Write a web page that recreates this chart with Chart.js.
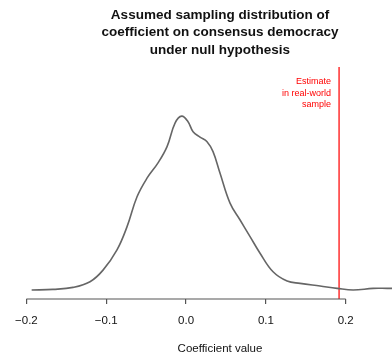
<!DOCTYPE html>
<html>
<head>
<meta charset="utf-8">
<script src="https://cdn.jsdelivr.net/npm/chart.js@4"></script>
<style>
  html, body { margin: 0; padding: 0; background: #fff; }
  #wrap { width: 392px; height: 354px; }
</style>
</head>
<body>
<div id="wrap"><canvas id="densityPlot" width="392" height="354"></canvas></div>
<script>
const titleLines = ["Assumed sampling distribution of", "coefficient on consensus democracy", "under null hypothesis"];
const estimateLines = ["Estimate", "in real-world", "sample"];
const xAxisLabel = "Coefficient value";

const coefValues = [-0.1934, -0.1667, -0.1416, -0.1203, -0.1040, -0.0865, -0.0739, -0.0614, -0.0489, -0.0351,
  -0.0238, -0.0138, -0.0054, 0.0025, 0.0088, 0.0175, 0.0263, 0.0338, 0.0426, 0.0551,
  0.0677, 0.0802, 0.0927, 0.1090, 0.1266, 0.1429, 0.1679, 0.1892, 0.2093, 0.2343, 0.2519, 0.2600];
const densityValues = [0.06, 0.08, 0.14, 0.31, 0.66, 1.27, 1.97, 2.87, 3.43, 3.89,
  4.38, 5.09, 5.30, 5.13, 4.83, 4.67, 4.53, 4.23, 3.58, 2.68,
  2.17, 1.67, 1.17, 0.61, 0.33, 0.26, 0.18, 0.11, 0.06, 0.11, 0.11, 0.11];
const estimateValue = 0.1917;
const xTicks = [-0.2, -0.1, 0.0, 0.1, 0.2];

const yMin = -0.21;
const yMax = 6.78;

const densityCanvas = document.getElementById("densityPlot");

// draws the title, red note, x label and the short axis line
const textPlugin = {
    id: 'rText',
    afterDraw(chart) {
        const ctx = chart.ctx;
        const xs = chart.scales.x;
        const area = chart.chartArea;
        ctx.save();
        ctx.fillStyle = '#111';
        ctx.textAlign = 'center';
        ctx.textBaseline = 'middle';
        ctx.font = 'bold 13.5px "Liberation Sans", Arial, sans-serif';
        titleLines.forEach((t, i) => ctx.fillText(t, 220, 15 + i * 17.5));

        ctx.fillStyle = '#ff0000';
        ctx.textAlign = 'right';
        ctx.font = '9px "Liberation Sans", Arial, sans-serif';
        estimateLines.forEach((t, i) => ctx.fillText(t, 331, 82 + i * 11.2));

        ctx.fillStyle = '#111';
        ctx.textAlign = 'center';
        ctx.font = '11.5px "Liberation Sans", Arial, sans-serif';
        ctx.fillText(xAxisLabel, 220, 349);

        ctx.strokeStyle = '#555';
        ctx.lineWidth = 1.2;
        ctx.beginPath();
        ctx.moveTo(xs.getPixelForValue(xTicks[0]), area.bottom);
        ctx.lineTo(xs.getPixelForValue(xTicks[xTicks.length - 1]), area.bottom);
        ctx.stroke();
        ctx.restore();
    }
};

new Chart(densityCanvas, {
    type: 'scatter',
    data: {
        datasets: [{
            data: coefValues.map((v, i) => ({ x: v, y: densityValues[i] })),
            showLine: true,
            borderColor: '#666',
            borderWidth: 1.6,
            pointRadius: 0,
            tension: 0.4,
            fill: false
        }, {
            data: [{ x: estimateValue, y: yMin }, { x: estimateValue, y: yMax }],
            showLine: true,
            borderColor: '#ff2020',
            borderWidth: 1.4,
            pointRadius: 0
        }]
    },
    options: {
        responsive: false,
        animation: false,
        layout: { padding: { left: 20, right: 0, top: 67, bottom: 15 } },
        plugins: { legend: { display: false }, tooltip: { enabled: false } },
        scales: {
            x: {
                type: 'linear',
                min: -0.208,
                max: 0.258,
                afterBuildTicks: scale => { scale.ticks = xTicks.map(v => ({ value: v })); },
                afterFit: scale => { scale.height = 40; },
                grid: { display: true, drawOnChartArea: false, drawTicks: true, tickLength: 5, color: '#555', lineWidth: 1.2 },
                border: { display: false },
                ticks: {
                    color: '#111',
                    padding: 10,
                    maxRotation: 0,
                    autoSkip: false,
                    font: { family: '"Liberation Sans", Arial, sans-serif', size: 11.5 },
                    callback: v => (v < 0 ? '\u2212' : '') + Math.abs(v).toFixed(1)
                }
            },
            y: {
                display: false,
                min: yMin,
                max: yMax
            }
        }
    },
    plugins: [textPlugin]
});
</script>
</body>
</html>
